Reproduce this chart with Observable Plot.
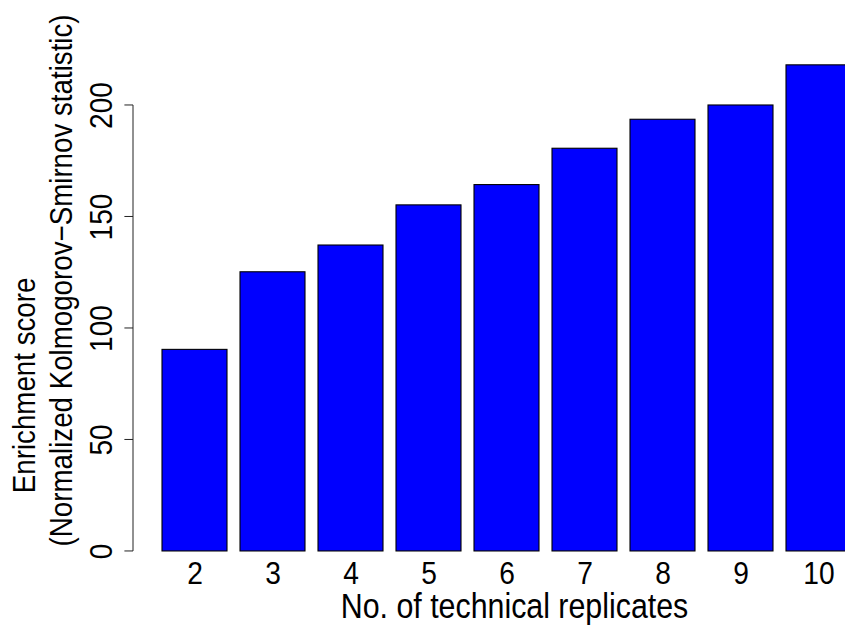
<!DOCTYPE html>
<html>
<head>
<meta charset="utf-8">
<script src="https://cdn.jsdelivr.net/npm/d3@7"></script>
<script src="https://cdn.jsdelivr.net/npm/@observablehq/plot@0.6"></script>
<style>
  html, body { margin: 0; padding: 0; background: white; }
</style>
</head>
<body>
<div id="chart"></div>
<script>
const replicates = ["2", "3", "4", "5", "6", "7", "8", "9", "10"];
const scores = [90.4, 125.2, 137.2, 155.2, 164.3, 180.6, 193.6, 200, 218];
const yTicks = [0, 50, 100, 150, 200];
const xTitle = "No. of technical replicates";
const yTitle1 = "Enrichment score";
const yTitle2 = "(Normalized Kolmogorov\u2212Smirnov statistic)";

const data = replicates.map((r, i) => ({r, v: scores[i]}));
const font = "'Liberation Sans', Arial, Helvetica, sans-serif";

const chart = Plot.plot({
  width: 845,
  height: 635,
  marginTop: 45.4,
  marginBottom: 64.6,
  marginLeft: 133,
  marginRight: 0,
  style: {fontFamily: font, background: "white", color: "black"},
  x: {type: "band", domain: replicates, range: [133, 880], paddingInner: 0.2 / 1.2, paddingOuter: 0.3533, axis: null},
  y: {domain: [-8.72, 226.72], axis: null},
  marks: [
    Plot.barY(data, {x: "r", y: "v", fill: "#0000ff", stroke: "black", strokeWidth: 1.1, clip: true}),
    Plot.text(replicates, {x: d => d, frameAnchor: "bottom", dy: 12.6, fontSize: 32, fill: "black"}),
    Plot.text([xTitle], {frameAnchor: "bottom", dx: 25, dy: 47, fontSize: 34.5, fill: "black"}),
    Plot.text(yTicks, {y: d => d, text: d => String(d), frameAnchor: "left", textAnchor: "middle", dx: -31.5, rotate: -90, fontSize: 32, fill: "black"}),
    Plot.text([yTitle1], {frameAnchor: "left", textAnchor: "middle", dx: -109, dy: 77, rotate: -90, fontSize: 31.5, fill: "black"}),
    Plot.text([yTitle2], {frameAnchor: "left", textAnchor: "middle", dx: -72, dy: -28, rotate: -90, fontSize: 31.5, fill: "black"})
  ]
});

// y axis line and ticks, positioned through the plot's own scales
const ys = chart.scale("y");
const xs = chart.scale("x");
const x0 = xs.range[0];
const g = d3.select(chart).append("g").attr("stroke", "#222").attr("stroke-width", 1).attr("fill", "none");
g.append("line")
  .attr("x1", x0).attr("x2", x0)
  .attr("y1", ys.apply(yTicks[0])).attr("y2", ys.apply(yTicks[yTicks.length - 1]));
for (const t of yTicks) {
  g.append("line")
    .attr("x1", x0 - 8.6).attr("x2", x0)
    .attr("y1", ys.apply(t)).attr("y2", ys.apply(t));
}

// narrow the glyphs along the reading direction (the reference font is condensed)
for (const el of chart.querySelectorAll("text")) {
  const t = el.getAttribute("transform");
  if (t) {
    el.setAttribute("transform", t + " scale(0.88,1)");
  } else {
    const x = el.getAttribute("x") || 0, y = el.getAttribute("y") || 0;
    el.removeAttribute("x");
    el.removeAttribute("y");
    el.setAttribute("transform", `translate(${x},${y}) scale(0.88,1)`);
  }
}

document.getElementById("chart").appendChild(chart);
</script>
</body>
</html>
